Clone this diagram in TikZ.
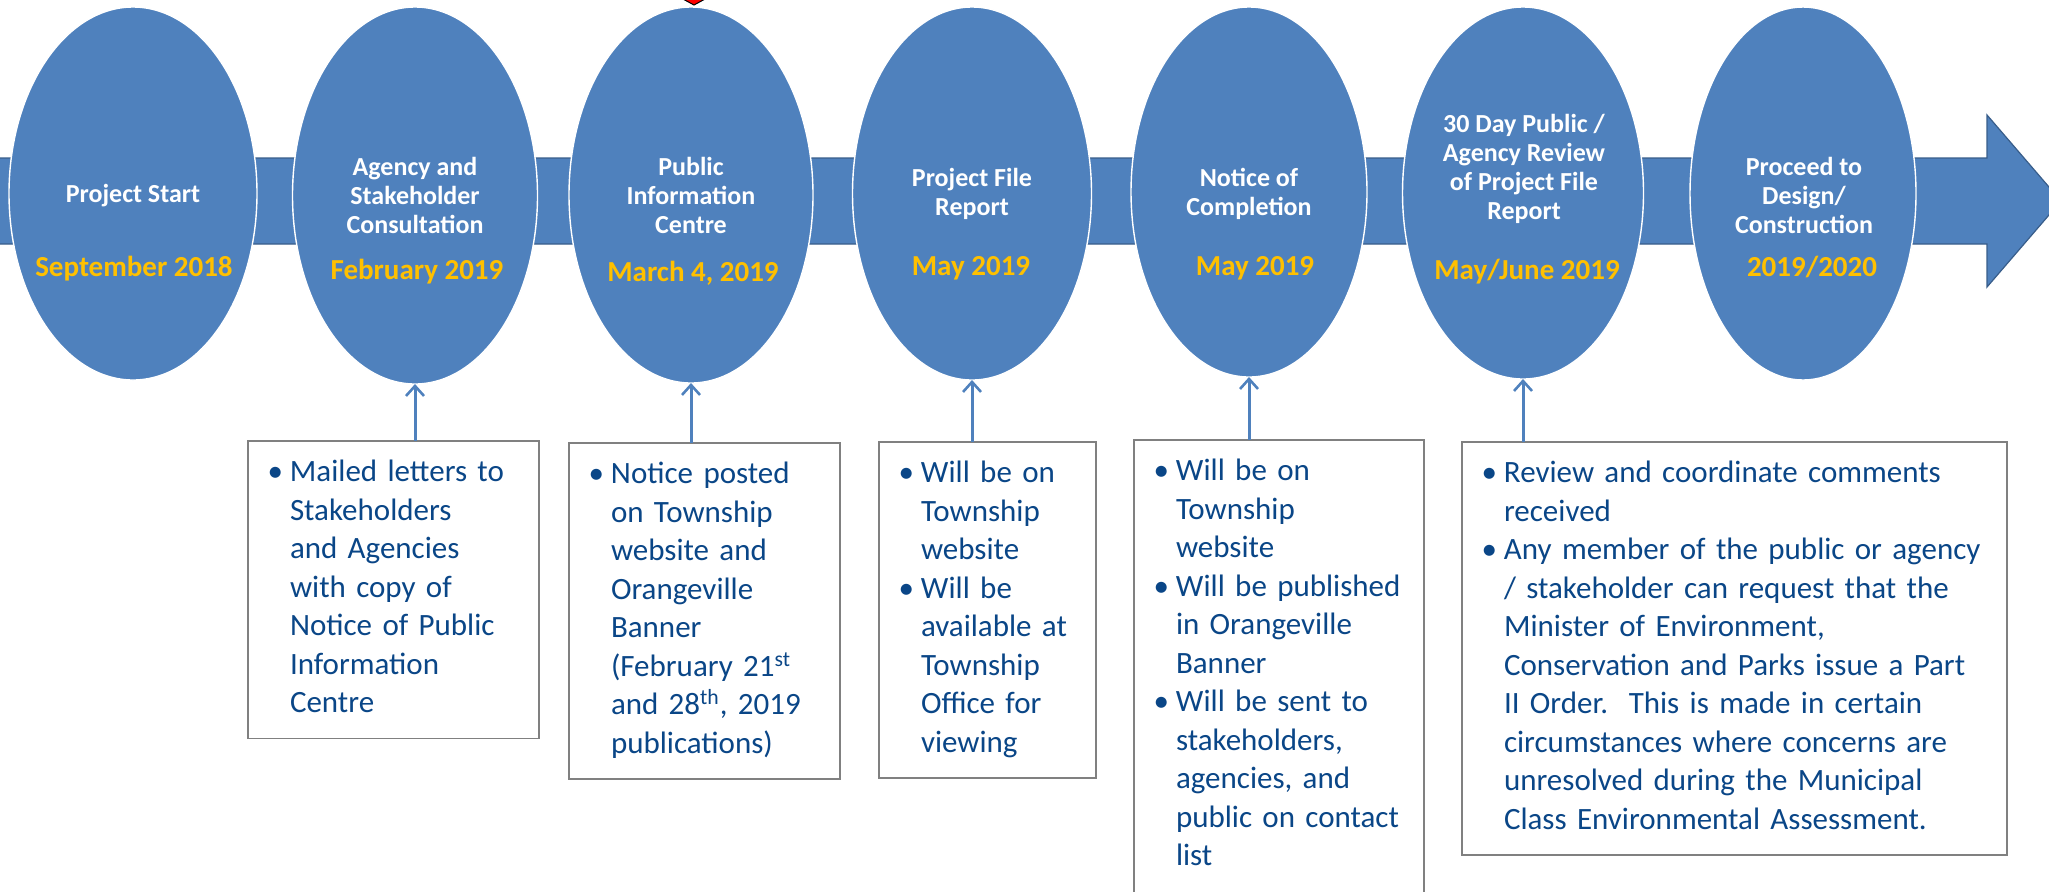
\documentclass[tikz,border=0pt]{standalone}
\usepackage{fontspec}
\setmainfont{Carlito}
\usetikzlibrary{arrows.meta,positioning,shapes.geometric}
\definecolor{TLblue}{RGB}{79,129,189}
\definecolor{TLedge}{RGB}{56,93,138}
\definecolor{TLgold}{RGB}{255,192,0}
\definecolor{TLtext}{RGB}{10,70,135}
\definecolor{TLgray}{RGB}{128,128,128}
\newcommand{\bul}{\leavevmode\llap{\textbullet\hspace{3.5pt}}}
\hfuzz=100pt
\tikzset{
  phase/.style={ellipse,fill=TLblue,draw=white,line width=0.7pt,inner sep=0pt,outer sep=0pt},
  ttl/.style={text=white,align=center,font=\fontsize{13}{14.5}\selectfont\bfseries,inner sep=0pt},
  when/.style={text=TLgold,font=\fontsize{14.5}{16}\selectfont\bfseries,inner sep=0pt},
  notebox/.style={draw=TLgray,line width=0.6pt,fill=white,anchor=north west,align=left,
                  text=TLtext,font=\fontsize{15.5}{19.25}\selectfont,inner xsep=21pt,inner ysep=7pt,
                  outer sep=0pt,execute at begin node={\rightskip=-20pt plus 1fil\strut},
                  execute at end node=\strut},
  uparr/.style={-{Straight Barb[length=5pt,width=9pt,line width=1.3pt]},line width=1.5pt,draw=TLblue}
}
\begin{document}
\begin{tikzpicture}[x=0.5pt,y=-0.5pt]
  \useasboundingbox (0,0) rectangle (2049,891);
  \clip (0,0) rectangle (2049,891);
  % timeline band
  \path[fill=TLblue,draw=TLedge,line width=0.6pt] (-10,158) -- (1987,158) -- (1987,115) -- (2061,201)
    -- (1987,287) -- (1987,244) -- (-10,244) -- cycle;
  % phases
  \node[phase,minimum width=124pt,minimum height=186.5pt] (e1) at (133,193.5) {};
  \node[phase,minimum width=122.5pt,minimum height=188.5pt] (e2) at (415,195.5) {};
  \node[phase,minimum width=122pt,minimum height=188pt] (e3) at (691,195) {};
  \node[phase,minimum width=119.5pt,minimum height=186.5pt] (e4) at (972,193.5) {};
  \node[phase,minimum width=118pt,minimum height=185pt] (e5) at (1249,192) {};
  \node[phase,minimum width=120.5pt,minimum height=186pt] (e6) at (1523,193) {};
  \node[phase,minimum width=113pt,minimum height=186.5pt] (e7) at (1803,193.5) {};
  \node[ttl] (t1) at (133,196) {Project Start};
  \node[ttl] (t2) at (415,195) {Agency and\\Stakeholder\\Consultation};
  \node[ttl] (t3) at (691,195) {Public\\Information\\Centre};
  \node[ttl] (t4) at (972,194) {Project File\\Report};
  \node[ttl] (t5) at (1249,194) {Notice of\\Completion};
  \node[ttl] (t6) at (1524,169) {30 Day Public /\\Agency Review\\of Project File\\Report};
  \node[ttl] (t7) at (1804,195) {Proceed to\\Design/\\Construction};
  \node[when] (d1) at (134,269) {September 2018};
  \node[when] (d2) at (417,272) {February 2019};
  \node[when] (d3) at (693,273) {March 4, 2019};
  \node[when] (d4) at (971,268) {May 2019};
  \node[when] (d5) at (1255,268) {May 2019};
  \node[when] (d6) at (1527,272) {May/June 2019};
  \node[when] (d7) at (1812,267) {2019/2020};
  % notes
  \node[notebox,text width=103.5pt] (b1) at (248,441) {\bul Mailed letters to\\Stakeholders\\and Agencies\\with copy of\\Notice of Public\\Information\\Centre};
  \node[notebox,text width=93.5pt] (b2) at (569,443) {\bul Notice posted\\on Township\\website and\\Orangeville\\Banner\\(February 21\textsuperscript{st}\\and 28\textsuperscript{th}, 2019\\publications)};
  \node[notebox,text width=66.5pt] (b3) at (879,442) {\bul Will be on\\Township\\website\\\bul Will be\\available at\\Township\\Office for\\viewing};
  \node[notebox,text width=103pt] (b4) at (1134,440) {\bul Will be on\\Township\\website\\\bul Will be published\\in Orangeville\\Banner\\\bul Will be sent to\\stakeholders,\\agencies, and\\public on contact\\list\rule[-12pt]{0pt}{1pt}};
  \node[notebox,text width=230.5pt] (b5) at (1462,442) {\bul Review and coordinate comments\\received\\\bul Any member of the public or agency\\/ stakeholder can request that the\\Minister of Environment,\\Conservation and Parks issue a Part\\II Order.\ \ This is made in certain\\circumstances where concerns are\\unresolved during the Municipal\\Class Environmental Assessment.};
  \draw[uparr] (b1.north -| e2.south) -- (e2.south);
  \draw[uparr] (b2.north -| e3.south) -- (e3.south);
  \draw[uparr] (b3.north -| e4.south) -- (e4.south);
  \draw[uparr] (b4.north -| e5.south) -- (e5.south);
  \draw[uparr] (b5.north -| e6.south) -- (e6.south);
  \filldraw[fill=red,draw=black,line width=0.5pt] (670,-8) -- (718,-8) -- (694,5) -- cycle;
\end{tikzpicture}
\end{document}
